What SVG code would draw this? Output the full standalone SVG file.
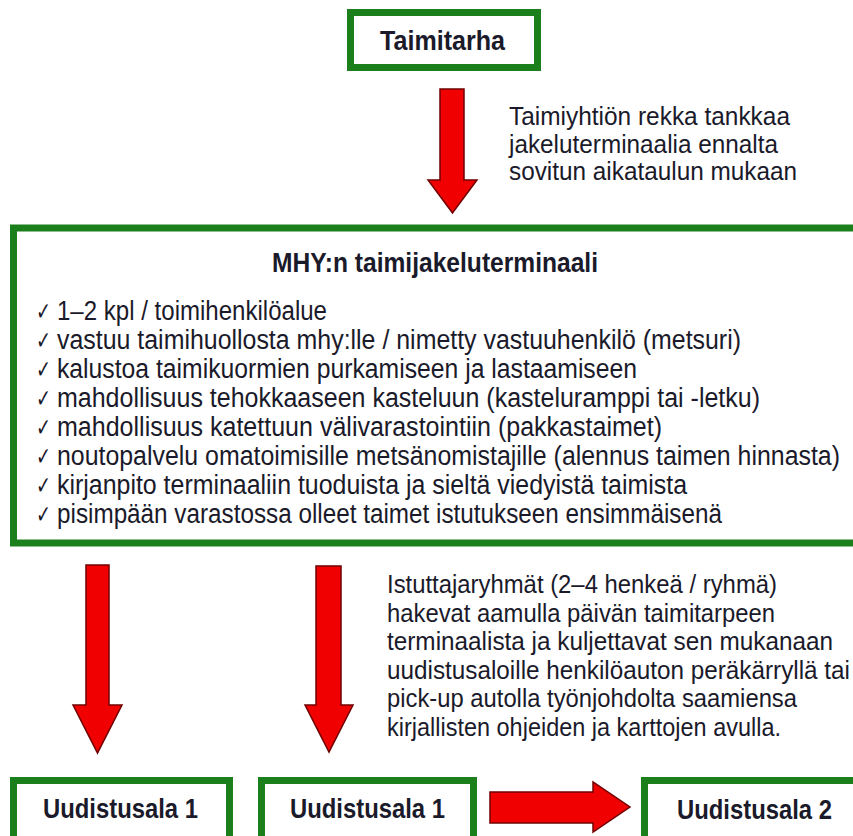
<svg xmlns="http://www.w3.org/2000/svg" width="853" height="836" viewBox="0 0 853 836">
<style>
  .box{fill:#ffffff;stroke:#1b801b;stroke-width:7}
  .lbl{font-family:"Liberation Sans",Arial,sans-serif;font-weight:bold;font-size:28px;fill:#1a1a2a}
  .txt{font-family:"Liberation Sans",Arial,sans-serif;font-size:26px;fill:#1a1a2a}
  .lst{font-family:"Liberation Sans",Arial,sans-serif;font-size:27px;fill:#1a1a2a}
  .ck{font-family:"DejaVu Sans",sans-serif;font-size:25px;fill:#1a1a2a}
  .arr{fill:#f00000;stroke:#700000;stroke-width:1.5;stroke-linejoin:miter}
</style>
<rect width="853" height="836" fill="#ffffff"/>

<g id="taimitarha">
  <rect class="box" x="350.5" y="12.5" width="187" height="55"/>
  <text class="lbl" x="380" y="50" textLength="125" lengthAdjust="spacingAndGlyphs">Taimitarha</text>
</g>

<g id="terminaali">
  <rect class="box" x="13.5" y="228" width="860" height="315"/>
  <text class="lbl" x="272" y="272" textLength="326" lengthAdjust="spacingAndGlyphs">MHY:n taimijakeluterminaali</text>
  <g class="ck">
    <text x="36" y="320" textLength="15" lengthAdjust="spacingAndGlyphs">✓</text>
    <text x="36" y="349" textLength="15" lengthAdjust="spacingAndGlyphs">✓</text>
    <text x="36" y="378" textLength="15" lengthAdjust="spacingAndGlyphs">✓</text>
    <text x="36" y="407" textLength="15" lengthAdjust="spacingAndGlyphs">✓</text>
    <text x="36" y="436" textLength="15" lengthAdjust="spacingAndGlyphs">✓</text>
    <text x="36" y="465" textLength="15" lengthAdjust="spacingAndGlyphs">✓</text>
    <text x="36" y="494" textLength="15" lengthAdjust="spacingAndGlyphs">✓</text>
    <text x="36" y="523" textLength="15" lengthAdjust="spacingAndGlyphs">✓</text>
  </g>
  <g class="lst">
    <text x="57" y="320" textLength="270" lengthAdjust="spacingAndGlyphs">1–2 kpl / toimihenkilöalue</text>
    <text x="57" y="349" textLength="684" lengthAdjust="spacingAndGlyphs">vastuu taimihuollosta mhy:lle / nimetty vastuuhenkilö (metsuri)</text>
    <text x="57" y="378" textLength="580" lengthAdjust="spacingAndGlyphs">kalustoa taimikuormien purkamiseen ja lastaamiseen</text>
    <text x="57" y="407" textLength="703" lengthAdjust="spacingAndGlyphs">mahdollisuus tehokkaaseen kasteluun (kasteluramppi tai -letku)</text>
    <text x="57" y="436" textLength="605" lengthAdjust="spacingAndGlyphs">mahdollisuus katettuun välivarastointiin (pakkastaimet)</text>
    <text x="57" y="465" textLength="783" lengthAdjust="spacingAndGlyphs">noutopalvelu omatoimisille metsänomistajille (alennus taimen hinnasta)</text>
    <text x="57" y="494" textLength="630" lengthAdjust="spacingAndGlyphs">kirjanpito terminaaliin tuoduista ja sieltä viedyistä taimista</text>
    <text x="57" y="523" textLength="665" lengthAdjust="spacingAndGlyphs">pisimpään varastossa olleet taimet istutukseen ensimmäisenä</text>
  </g>
</g>

<g id="uudistusala1a">
  <rect class="box" x="13.5" y="780.5" width="216" height="70"/>
  <text class="lbl" x="43" y="818" textLength="155" lengthAdjust="spacingAndGlyphs">Uudistusala 1</text>
</g>

<g id="uudistusala1b">
  <rect class="box" x="261.5" y="780.5" width="212" height="70"/>
  <text class="lbl" x="290" y="818" textLength="155" lengthAdjust="spacingAndGlyphs">Uudistusala 1</text>
</g>

<g id="uudistusala2">
  <rect class="box" x="644.5" y="780.5" width="230" height="70"/>
  <text class="lbl" x="677" y="819" textLength="155" lengthAdjust="spacingAndGlyphs">Uudistusala 2</text>
</g>

<g id="connectors">
  <polygon class="arr" points="440,89 464,89 464,180 477,180 452.5,213 428,180 440,180"/>
  <polygon class="arr" points="86,565 109,565 109,705 122,705 97.5,753 73,705 86,705"/>
  <polygon class="arr" points="316,566 341,566 341,705 353,705 329,752 305,705 316,705"/>
  <polygon class="arr" points="490,792 593,792 593,782 630,807 593,832 593,823 490,823"/>
</g>

<g id="label-rekka" class="txt">
  <text x="509" y="125" textLength="281" lengthAdjust="spacingAndGlyphs">Taimiyhtiön rekka tankkaa</text>
  <text x="509" y="152.5" textLength="269" lengthAdjust="spacingAndGlyphs">jakeluterminaalia ennalta</text>
  <text x="509" y="180" textLength="288" lengthAdjust="spacingAndGlyphs">sovitun aikataulun mukaan</text>
</g>

<g id="label-istuttajat" class="txt">
  <text x="387" y="593" textLength="390" lengthAdjust="spacingAndGlyphs">Istuttajaryhmät (2–4 henkeä / ryhmä)</text>
  <text x="387" y="621.5" textLength="388" lengthAdjust="spacingAndGlyphs">hakevat aamulla päivän taimitarpeen</text>
  <text x="387" y="650" textLength="446" lengthAdjust="spacingAndGlyphs">terminaalista ja kuljettavat sen mukanaan</text>
  <text x="387" y="678.5" textLength="463" lengthAdjust="spacingAndGlyphs">uudistusaloille henkilöauton peräkärryllä tai</text>
  <text x="387" y="707" textLength="410" lengthAdjust="spacingAndGlyphs">pick-up autolla työnjohdolta saamiensa</text>
  <text x="387" y="735.5" textLength="394" lengthAdjust="spacingAndGlyphs">kirjallisten ohjeiden ja karttojen avulla.</text>
</g>
</svg>
